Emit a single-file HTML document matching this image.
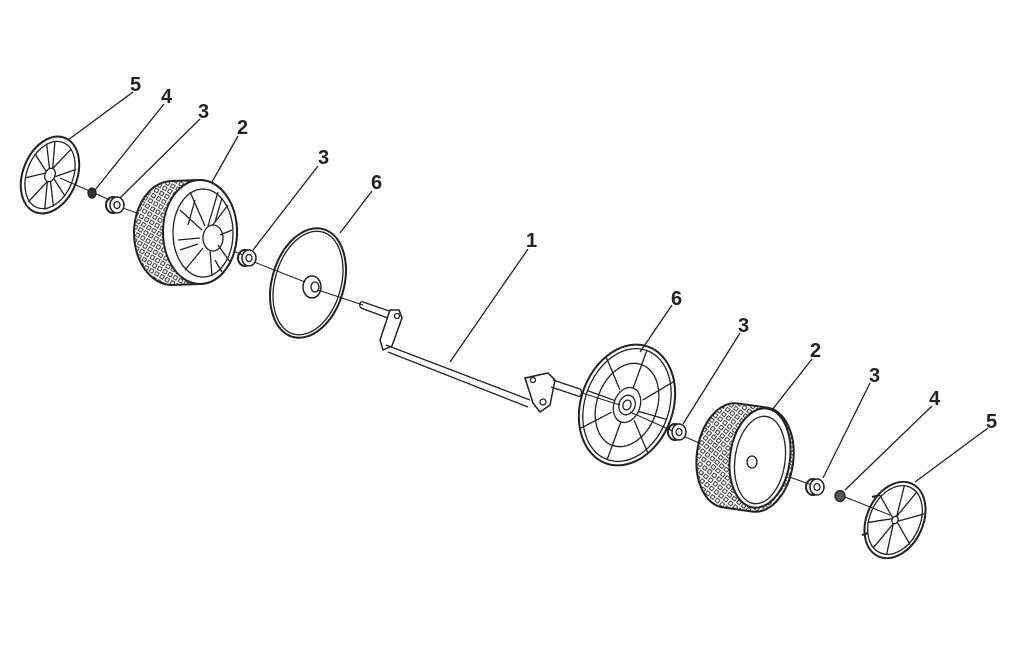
<!DOCTYPE html>
<html><head><meta charset="utf-8"><style>
html,body{margin:0;padding:0;background:#fff;}
svg{display:block}
text{font-family:"Liberation Sans Narrow","Liberation Sans",sans-serif;font-weight:bold;font-size:20px;fill:#222}
</style></head><body>
<svg width="1017" height="663" viewBox="0 0 1017 663" xmlns="http://www.w3.org/2000/svg">
<defs>
<pattern id="tr" width="6" height="6" patternUnits="userSpaceOnUse" patternTransform="rotate(30)">
<rect width="6" height="6" fill="#fff"/><rect x="1" y="1" width="3.5" height="3.5" fill="none" stroke="#333" stroke-width="0.9"/>
</pattern>
</defs>
<g fill="none" stroke="#222" stroke-width="1.3">
<line x1="133" y1="92" x2="68" y2="140"/>
<line x1="164" y1="104" x2="95" y2="190"/>
<line x1="200" y1="119" x2="120" y2="198"/>
<line x1="238" y1="136" x2="212" y2="182"/>
<line x1="318" y1="166" x2="253" y2="250"/>
<line x1="372" y1="191" x2="340" y2="233"/>
<line x1="528" y1="249" x2="450" y2="362"/>
<line x1="672" y1="305" x2="640" y2="352"/>
<line x1="740" y1="333" x2="683" y2="424"/>
<line x1="812" y1="359" x2="772" y2="410"/>
<line x1="870" y1="383" x2="823" y2="478"/>
<line x1="932" y1="406" x2="845" y2="490"/>
<line x1="988" y1="428" x2="915" y2="482"/>
<line x1="60" y1="178" x2="110" y2="200" stroke-width="1"/>
<line x1="120" y1="207" x2="170" y2="225" stroke-width="1"/>
<line x1="215" y1="243" x2="245" y2="256" stroke-width="1"/>
<line x1="254" y1="262" x2="305" y2="282" stroke-width="1"/>
<line x1="318" y1="290" x2="363" y2="305" stroke-width="1"/>
<line x1="582" y1="393" x2="620" y2="405" stroke-width="1"/>
<line x1="630" y1="412" x2="675" y2="432" stroke-width="1"/>
<line x1="683" y1="436" x2="720" y2="452" stroke-width="1"/>
<line x1="755" y1="465" x2="812" y2="485" stroke-width="1"/>
<line x1="845" y1="497" x2="890" y2="515" stroke-width="1"/>

<g transform="translate(50,175) rotate(22)">
<ellipse rx="27" ry="40" stroke-width="2"/>
<ellipse rx="23" ry="35"/>
<ellipse rx="5" ry="7"/>
<path d="M0,-7 L-8,-33 M0,-7 L10,-32 M5,0 L22,-15 M5,2 L22,14 M0,7 L8,34 M0,7 L-10,33 M-5,0 L-22,12 M-5,-2 L-22,-14 M-3,-6 L-15,-28 M3,6 L15,28"/>
</g>
<ellipse cx="92" cy="193" rx="4" ry="5" fill="#333"/>
<ellipse cx="113" cy="205" rx="7" ry="8" stroke-width="2"/>
<ellipse cx="117" cy="205" rx="7" ry="8" fill="#fff" stroke-width="1.5"/>
<ellipse cx="117" cy="205" rx="3" ry="3.5"/>

<path d="M172,181 L200,180 A37 52 0 0 1 200,284 L172,285 A38 52 0 0 1 172,181Z" fill="url(#tr)" stroke-width="2"/>
<ellipse cx="200" cy="232" rx="37" ry="52" fill="#fff" stroke-width="2"/>
<ellipse cx="203" cy="233" rx="30" ry="44"/>
<ellipse cx="213" cy="238" rx="10" ry="13"/>
<path d="M205,226 L190,192 M208,226 L218,192 M212,226 L228,205 M220,235 L232,230 M218,245 L230,262 M210,250 L212,276 M203,248 L185,270 M200,238 L178,240 M202,230 L180,210 M195,200 L188,225 M222,198 L215,222 M180,250 L198,244 M215,260 L222,272"/>

<ellipse cx="245" cy="258" rx="7" ry="8" stroke-width="2"/>
<ellipse cx="249" cy="258" rx="7" ry="8" fill="#fff" stroke-width="1.5"/>
<ellipse cx="249" cy="258" rx="3" ry="3.5"/>

<ellipse cx="308" cy="283" rx="36" ry="56" transform="rotate(16 308 283)" stroke-width="2"/>
<ellipse cx="308" cy="283" rx="33" ry="53" transform="rotate(16 308 283)"/>
<ellipse cx="312" cy="287" rx="9" ry="11" stroke-width="1.5"/>
<ellipse cx="315" cy="287" rx="4" ry="5"/>

<path d="M363,302 L395,313 M361,308 L393,320 M363,302 A2 3 0 0 0 361,308"/>
<path d="M390,310 L380,340 L383,350 L392,346 L402,318 L399,310 Z" stroke-width="1.5" fill="#fff"/>
<circle cx="397" cy="316" r="2.5"/>
<path d="M386,345 L530,400 M388,352 L528,407"/>
<path d="M525,378 L548,373 L555,380 L550,405 L540,412 L533,403 Z" stroke-width="1.5" fill="#fff"/>
<circle cx="533" cy="380" r="2.5"/><circle cx="543" cy="402" r="3"/>
<path d="M553,380 L580,389 M551,387 L578,396 M580,389 A2 3 0 0 1 578,396"/>

<g transform="translate(627,405) rotate(20)">
<ellipse rx="46" ry="62" stroke-width="2"/>
<ellipse rx="42" ry="58"/>
<ellipse rx="30" ry="43"/>
<ellipse rx="13" ry="18"/>
<ellipse rx="8" ry="10"/>
<ellipse rx="4" ry="5"/>
<path d="M0,-18 L0,-58 M13,-10 L36,-38 M13,2 L42,0 M12,12 L36,38 M0,18 L0,58 M-12,12 L-36,38 M-13,0 L-42,0 M-12,-12 L-36,-38"/>
</g>
<ellipse cx="675" cy="432" rx="7" ry="8" stroke-width="2"/>
<ellipse cx="679" cy="432" rx="7" ry="8" fill="#fff" stroke-width="1.5"/>
<ellipse cx="679" cy="432" rx="3" ry="3.5"/>

<path d="M730,405 L760,405 A33 52 0 0 1 760,510 L730,510 A33 52 0 0 1 730,405Z" fill="url(#tr)" stroke-width="2" transform="rotate(8 745 458)"/>
<ellipse cx="760" cy="458" rx="30" ry="50" transform="rotate(8 760 458)" fill="#fff" stroke-width="2"/>
<ellipse cx="760" cy="460" rx="25" ry="44" transform="rotate(8 760 460)"/>
<ellipse cx="752" cy="462" rx="5" ry="6"/>

<ellipse cx="813" cy="487" rx="7" ry="8" stroke-width="2"/>
<ellipse cx="817" cy="487" rx="7" ry="8" fill="#fff" stroke-width="1.5"/>
<ellipse cx="817" cy="487" rx="3" ry="3.5"/>
<ellipse cx="840" cy="496" rx="5" ry="5.5" fill="#555"/>

<g transform="translate(895,520) rotate(25)">
<ellipse rx="28" ry="40" stroke-width="2"/>
<ellipse rx="25" ry="36"/>
<ellipse rx="3" ry="4"/>
<path d="M0,-4 L-6,-35 M0,-4 L8,-35 M3,0 L24,-18 M3,1 L24,16 M0,4 L7,35 M0,4 L-8,35 M-3,0 L-24,14 M-3,-1 L-24,-16"/>
</g>
<path d="M872,497 L880,495 M862,535 L868,533" stroke-width="2"/>
</g>
<text x="130" y="91">5</text>
<text x="161" y="103">4</text>
<text x="198" y="118">3</text>
<text x="237" y="134">2</text>
<text x="318" y="164">3</text>
<text x="371" y="189">6</text>
<text x="526" y="247">1</text>
<text x="671" y="305">6</text>
<text x="738" y="332">3</text>
<text x="810" y="357">2</text>
<text x="869" y="382">3</text>
<text x="929" y="405">4</text>
<text x="986" y="428">5</text>
</svg>
</body></html>
